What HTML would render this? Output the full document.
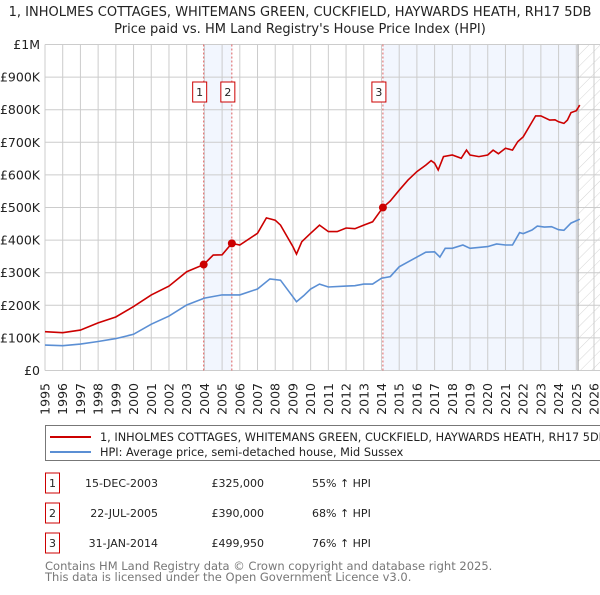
<!DOCTYPE html>
<html><head><meta charset="utf-8"><style>
body{margin:0;background:#fff;width:600px;height:590px;overflow:hidden;font-family:"Liberation Sans","DejaVu Sans",sans-serif}
</style></head><body>
<svg id="chart" width="600" height="590" xmlns="http://www.w3.org/2000/svg" font-family="DejaVu Sans, Liberation Sans, sans-serif">
<defs><pattern id="hatch" width="8" height="8" patternUnits="userSpaceOnUse" patternTransform="rotate(45)"><line x1="0" y1="0" x2="0" y2="8" stroke="#ccc" stroke-width="0.8"/></pattern></defs>
<text x="300" y="16" text-anchor="middle" font-size="13" fill="#222">1, INHOLMES COTTAGES, WHITEMANS GREEN, CUCKFIELD, HAYWARDS HEATH, RH17 5DB</text>
<text x="300" y="33" text-anchor="middle" font-size="13" fill="#222">Price paid vs. HM Land Registry's House Price Index (HPI)</text>
<g id="plot"></g>
<g>
<rect x="45.5" y="425.5" width="560" height="35" fill="#fff" stroke="#777"/>
<line x1="50" y1="437" x2="91" y2="437" stroke="#cc0000" stroke-width="2"/>
<text x="100" y="441" font-size="11.3" fill="#222">1, INHOLMES COTTAGES, WHITEMANS GREEN, CUCKFIELD, HAYWARDS HEATH, RH17 5DB (semi-detached house)</text>
<line x1="50" y1="452" x2="91" y2="452" stroke="#5b8fd4" stroke-width="2"/>
<text x="100" y="456" font-size="11.3" fill="#222">HPI: Average price, semi-detached house, Mid Sussex</text>
</g>
<g id="table" font-size="11" fill="#222"></g>
<text x="45" y="570" font-size="11.5" fill="#777">Contains HM Land Registry data © Crown copyright and database right 2025.</text>
<text x="45" y="581" font-size="11.5" fill="#777">This data is licensed under the Open Government Licence v3.0.</text>
</svg>
<script>
const yTicks=[0,100,200,300,400,500,600,700,800,900,1000];
const yTickLabels=["£0","£100K","£200K","£300K","£400K","£500K","£600K","£700K","£800K","£900K","£1M"];
const years=[1995,1996,1997,1998,1999,2000,2001,2002,2003,2004,2005,2006,2007,2008,2009,2010,2011,2012,2013,2014,2015,2016,2017,2018,2019,2020,2021,2022,2023,2024,2025,2026];
const saleDates=[2003.96,2005.55,2014.08];
const salePrices=[325,390,499.95];
const saleLabels=["1","2","3"];
const saleDateText=["15-DEC-2003","22-JUL-2005","31-JAN-2014"];
const salePriceText=["£325,000","£390,000","£499,950"];
const saleHpiText=["55% ↑ HPI","68% ↑ HPI","76% ↑ HPI"];
const redT=[1995,1996,1997,1998,1999,2000,2001,2002,2003,2003.96,2004.5,2005,2005.55,2006,2007,2007.5,2008,2008.3,2009,2009.2,2009.5,2010,2010.5,2011,2011.5,2012,2012.5,2013,2013.5,2014.08,2014.5,2015,2015.5,2016,2016.5,2016.8,2017,2017.2,2017.5,2018,2018.5,2018.8,2019,2019.5,2020,2020.3,2020.6,2021,2021.4,2021.7,2022,2022.4,2022.7,2023,2023.5,2023.8,2024,2024.3,2024.5,2024.7,2025,2025.2];
const redV=[119,116,124,146,164,196,232,259,303,325,354,355,390,385,421,468,461,446,380,357,395,421,446,426,426,437,435,446,456,500,520,553,584,610,630,644,636,615,656,661,651,676,661,656,661,676,665,682,676,702,717,753,781,781,768,769,763,758,768,791,797,814];
const blueT=[1995,1996,1997,1998,1999,2000,2001,2002,2003,2004,2005,2006,2007,2007.7,2008.3,2009,2009.2,2009.6,2010,2010.5,2011,2012,2012.5,2013,2013.5,2014,2014.5,2015,2015.5,2016,2016.5,2017,2017.3,2017.6,2018,2018.6,2019,2020,2020.5,2021,2021.4,2021.8,2022,2022.5,2022.8,2023.2,2023.6,2024,2024.3,2024.7,2025.2];
const blueV=[78,76,81,89,98,111,142,167,201,222,232,232,250,281,277,226,211,229,250,265,256,259,260,265,265,283,288,318,333,348,363,364,348,375,375,385,375,380,388,385,385,423,420,431,443,440,441,432,430,452,464];
const NS="http://www.w3.org/2000/svg";
const X0=45,X1=594,Y0=370.5,Y1=44.5,dataEnd=2025.1;
const xs=t=>X0+(t-1995)*(X1-X0)/(2026-1995);
const ys=v=>Y0-(v/1000)*(Y0-Y1);
function mk(tag,attrs,parent){const e=document.createElementNS(NS,tag);for(const k in attrs)e.setAttribute(k,attrs[k]);parent.appendChild(e);return e;}
const plot=document.getElementById('plot');
let s=mk('rect',{x:xs(saleDates[0]),y:Y1,width:xs(saleDates[1])-xs(saleDates[0]),height:Y0-Y1,fill:'#f2f6fe'},plot);


s=mk('rect',{x:xs(saleDates[2]),y:Y1,width:xs(dataEnd)-xs(saleDates[2]),height:Y0-Y1,fill:'#f2f6fe'},plot);


s=mk('rect',{x:xs(dataEnd),y:Y1,width:X1+6-xs(dataEnd),height:Y0-Y1,fill:'url(#hatch)'},plot);


years.forEach(y=>{const l=mk('line',{x1:xs(y),x2:xs(y),y1:Y1,y2:Y0,stroke:'#ccc'},plot);


const t=mk('text',{x:0,y:0,transform:`translate(${xs(y)+4.5},383) rotate(-90)`,'text-anchor':'end','font-size':12.5,fill:'#222'},plot);t.textContent=y;

});
yTicks.forEach((v,i)=>{const l=mk('line',{x1:X0,x2:X1+6,y1:ys(v),y2:ys(v),stroke:'#ccc'},plot);


const t=mk('text',{x:40,y:ys(v)+4.5,'text-anchor':'end','font-size':12.5,fill:'#222'},plot);t.textContent=yTickLabels[i];

});
const dl=mk('line',{x1:xs(dataEnd),x2:xs(dataEnd),y1:Y1,y2:Y0,stroke:'#999'},plot);


saleDates.forEach((d,i)=>{const l=mk('line',{x1:xs(d),x2:xs(d),y1:Y1,y2:Y0,stroke:'#e06060','stroke-dasharray':'2,2'},plot);


const r=mk('rect',{x:xs(d)-11,y:82,width:14,height:20,fill:'#fff',stroke:'#cc0000'},plot);


const t=mk('text',{x:xs(d)-4,y:96,'text-anchor':'middle','font-size':11,fill:'#222'},plot);t.textContent=saleLabels[i];

});
function path(T,V){return T.map((t,i)=>(i?'L':'M')+xs(t).toFixed(1)+','+ys(V[i]).toFixed(1)).join('');}
const bl=mk('path',{d:path(blueT,blueV),fill:'none',stroke:'#5b8fd4','stroke-width':1.6},plot);


const rl=mk('path',{d:path(redT,redV),fill:'none',stroke:'#cc0000','stroke-width':1.6},plot);


saleDates.forEach((d,i)=>{const c=mk('circle',{cx:xs(d),cy:ys(salePrices[i]),r:4,fill:'#cc0000'},plot);

});
const tb=document.getElementById('table');
saleLabels.forEach((lab,i)=>{const cy=483+i*30;
const r=mk('rect',{x:45.5,y:cy-10,width:14,height:20,fill:'#fff',stroke:'#cc0000'},tb);


let t=mk('text',{x:52.5,y:cy+4,'text-anchor':'middle'},tb);t.textContent=lab;


t=mk('text',{x:158,y:cy+4,'text-anchor':'end'},tb);t.textContent=saleDateText[i];


t=mk('text',{x:264,y:cy+4,'text-anchor':'end'},tb);t.textContent=salePriceText[i];


t=mk('text',{x:312,y:cy+4},tb);t.textContent=saleHpiText[i];

});
</script>
</body></html>
